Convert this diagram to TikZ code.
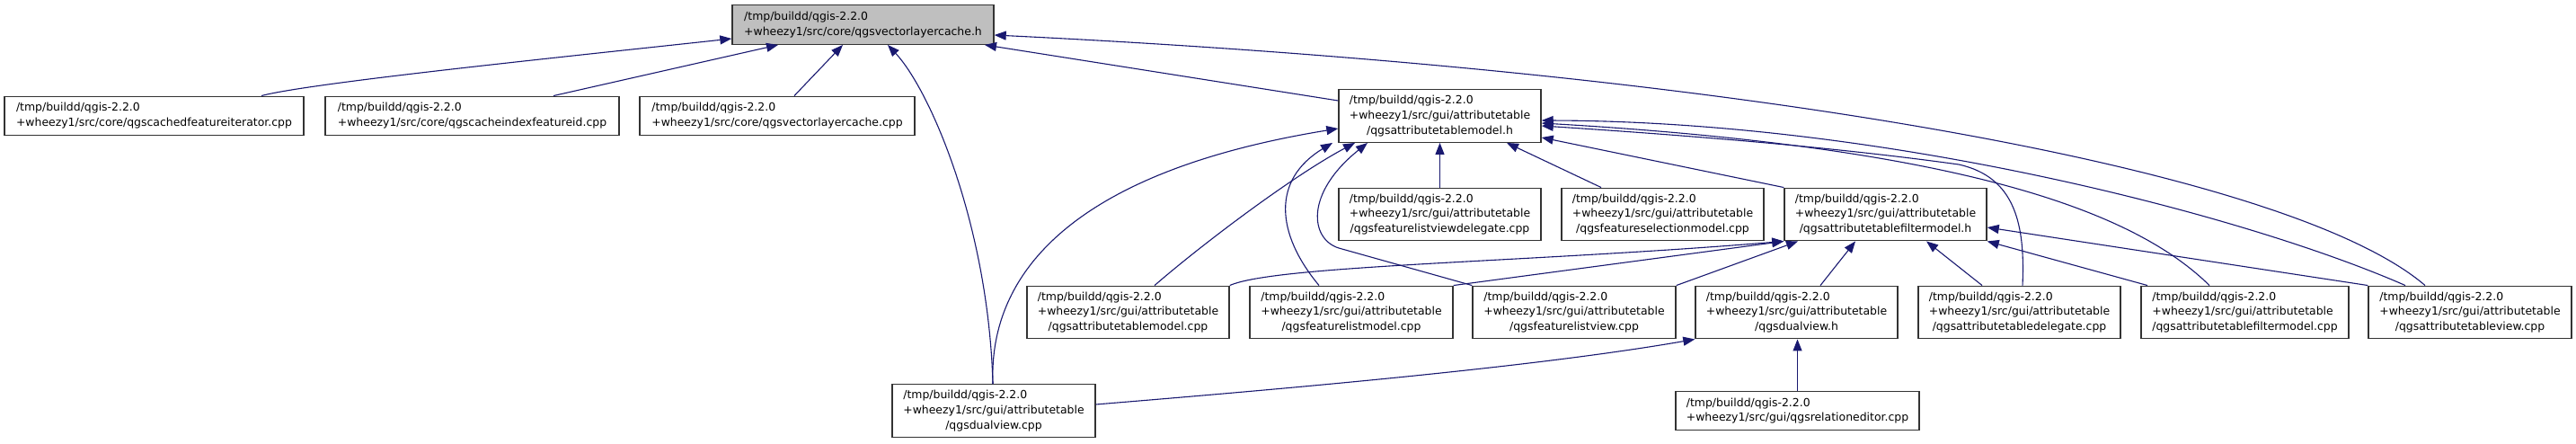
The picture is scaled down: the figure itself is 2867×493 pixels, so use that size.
\documentclass[tikz,border=0pt]{standalone}
\usepackage{fontspec}
\setmainfont{DejaVu Sans}
\usetikzlibrary{arrows.meta}
\definecolor{edgeblue}{HTML}{191970}
\definecolor{rootgray}{HTML}{BFBFBF}
\newcommand{\pathtwo}[1]{\begin{tabular}{@{}l@{}}/tmp/buildd/qgis-2.2.0\\#1\end{tabular}}
\newcommand{\paththree}[2]{\begin{tabular}{@{}l@{}}/tmp/buildd/qgis-2.2.0\\#1\\\multicolumn{1}{@{}c@{}}{#2}\end{tabular}}
\begin{document}
\begin{tikzpicture}[x=0.5pt,y=-0.5pt,
  filebox/.style={draw=black!80, line width=0.7pt, fill=white, inner sep=0pt,
    font=\fontsize{6.22pt}{8.35pt}\selectfont, anchor=center},
  twoline/.style={filebox, minimum height=21.75pt},
  threeline/.style={filebox, minimum width=113pt, minimum height=29.25pt},
  dep/.style={draw=edgeblue, line width=0.55pt, -{Triangle[length=6.5pt,width=5pt]}}]
\fill[white] (0,0) rectangle (2867,493);
\useasboundingbox (0,0) rectangle (2867,493);

% nodes
\node[twoline, fill=rootgray, minimum width=145.5pt] (root) at (960.5,27.5) {\pathtwo{+wheezy1/src/core/qgsvectorlayercache.h}};
\node[twoline, minimum width=166.5pt] (cfi) at (171.5,129) {\pathtwo{+wheezy1/src/core/qgscachedfeatureiterator.cpp}};
\node[twoline, minimum width=163.5pt] (cif) at (525.5,129) {\pathtwo{+wheezy1/src/core/qgscacheindexfeatureid.cpp}};
\node[twoline, minimum width=153pt] (vlc) at (865,129) {\pathtwo{+wheezy1/src/core/qgsvectorlayercache.cpp}};
\node[threeline, minimum width=112.5pt] (atmh) at (1602.5,129) {\paththree{+wheezy1/src/gui/attributetable}{/qgsattributetablemodel.h}};
\node[threeline, minimum width=112.5pt] (flvd) at (1602.5,238.5) {\paththree{+wheezy1/src/gui/attributetable}{/qgsfeaturelistviewdelegate.cpp}};
\node[threeline, minimum width=112.5pt] (fsm) at (1850.5,238.5) {\paththree{+wheezy1/src/gui/attributetable}{/qgsfeatureselectionmodel.cpp}};
\node[threeline, minimum width=112.5pt] (afmh) at (2098.5,238.5) {\paththree{+wheezy1/src/gui/attributetable}{/qgsattributetablefiltermodel.h}};
\node[threeline, minimum width=112.5pt] (atmcpp) at (1255.5,347.5) {\paththree{+wheezy1/src/gui/attributetable}{/qgsattributetablemodel.cpp}};
\node[threeline] (flm) at (1504,347.5) {\paththree{+wheezy1/src/gui/attributetable}{/qgsfeaturelistmodel.cpp}};
\node[threeline] (flv) at (1752,347.5) {\paththree{+wheezy1/src/gui/attributetable}{/qgsfeaturelistview.cpp}};
\node[threeline, minimum width=112.5pt] (dvh) at (1999.5,347.5) {\paththree{+wheezy1/src/gui/attributetable}{/qgsdualview.h}};
\node[threeline, minimum width=112.5pt] (atd) at (2247.5,347.5) {\paththree{+wheezy1/src/gui/attributetable}{/qgsattributetabledelegate.cpp}};
\node[threeline, minimum width=115.5pt] (afmcpp) at (2498.5,347.5) {\paththree{+wheezy1/src/gui/attributetable}{/qgsattributetablefiltermodel.cpp}};
\node[threeline] (atv) at (2749,347.5) {\paththree{+wheezy1/src/gui/attributetable}{/qgsattributetableview.cpp}};
\node[threeline] (dvcpp) at (1106,457) {\paththree{+wheezy1/src/gui/attributetable}{/qgsdualview.cpp}};
\node[twoline, minimum width=135.5pt] (re) at (2000.5,457) {\pathtwo{+wheezy1/src/gui/qgsrelationeditor.cpp}};

% edges into root
\draw[dep] (cfi.north -| 291,0) .. controls (345,92) and (640,62) .. (root.west |- 0,43);
\draw[dep] (cif.north -| 616,0) -- (root.south -| 866,0);
\draw[dep] (vlc.north -| 884,0) -- (root.south -| 938,0);
\draw[dep] (dvcpp.north -| 1105,0) .. controls (1100,250) and (1035,100) .. (root.south -| 988,0);
\draw[dep] (atmh.west |- 0,112) -- (root.south -| 1096,0);
\draw[dep] (atv.north -| 2699,0) .. controls (2550,190) and (1950,80) .. (root.east |- 0,39);

% edges into attributetablemodel.h
\draw[dep] (flvd.north) -- (atmh.south);
\draw[dep] (fsm.north -| 1782,0) -- (atmh.south -| 1677,0);
\draw[dep] (afmh.north west) -- (atmh.east |- 0,153);
\draw[dep] (dvcpp.north -| 1105,0) .. controls (1100,300) and (1200,190) .. (atmh.west |- 0,143);
\draw[dep] (atmcpp.north -| 1285,0) .. controls (1340,270) and (1440,195) .. (atmh.south -| 1508,0);
\draw[dep] (flm.north -| 1468,0) .. controls (1420,260) and (1415,200) .. (atmh.south -| 1483,0);
\draw[dep] (flv.north west) -- (1490,276) .. controls (1458,266) and (1452,215) .. (atmh.south -| 1522,0);
\draw[dep] (atd.north -| 2251,0) .. controls (2254,250) and (2243,197) .. (2180,183) .. controls (2050,165) and (1900,152) .. (atmh.east |- 0,140);
\draw[dep] (afmcpp.north -| 2459,0) .. controls (2380,240) and (2200,165) .. (atmh.east |- 0,137);
\draw[dep] (atv.north -| 2677,0) .. controls (2500,240) and (2100,135) .. (atmh.east |- 0,134);

% edges into attributetablefiltermodel.h
\draw[dep] (atmcpp.north east) .. controls (1420,295) and (1700,292) .. (afmh.south west);
\draw[dep] (flm.north east) -- (afmh.south west);
\draw[dep] (flv.north east) -- (afmh.south -| 2001,0);
\draw[dep] (dvh.north -| 2026,0) -- (afmh.south -| 2065,0);
\draw[dep] (atd.north -| 2206,0) -- (afmh.south -| 2144,0);
\draw[dep] (afmcpp.north -| 2390,0) -- (afmh.south east);
\draw[dep] (atv.north west) -- (afmh.east |- 0,253);

% edges into qgsdualview.h
\draw[dep] (dvcpp.east |- 0,450) .. controls (1400,435) and (1700,410) .. (dvh.south west);
\draw[dep] (re.north) -- (re.north |- dvh.south);
\end{tikzpicture}
\end{document}
